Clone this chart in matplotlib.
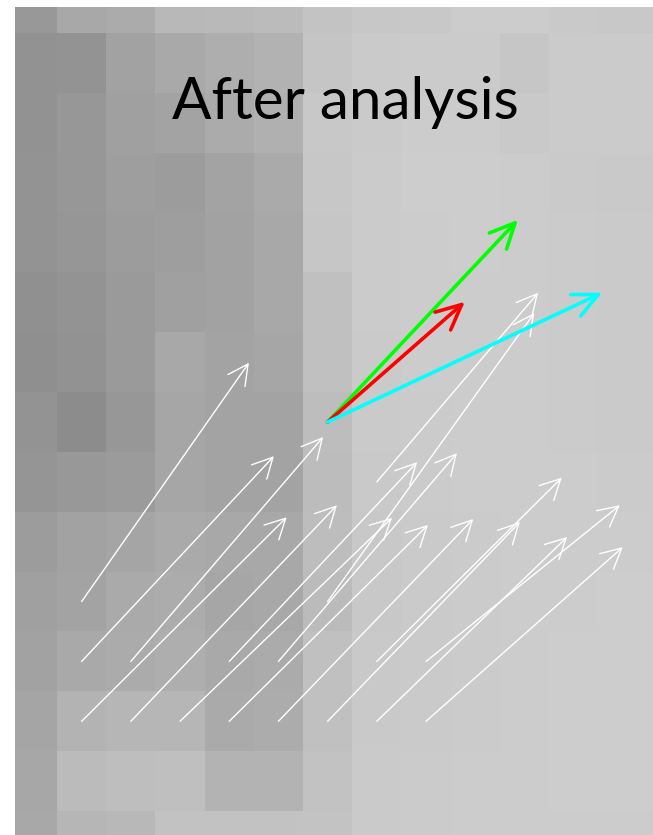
import numpy as np
import matplotlib
matplotlib.use("Agg")
import matplotlib.pyplot as plt

# gray levels of the image patch (rows top to bottom, 0-255)
patch = [
    [0x98, 0xa8, 0xab, 0xb8, 0xb9, 0xbb, 0xc3, 0xc7, 0xc8, 0xcc, 0xcc, 0xc9, 0xc8, 0xc8],
    [0x92, 0x93, 0xa2, 0xa9, 0xae, 0xb2, 0xc5, 0xca, 0xcb, 0xcb, 0xc6, 0xcb, 0xcb, 0xcb],
    [0x92, 0x97, 0xa0, 0xa4, 0xab, 0xb0, 0xc8, 0xca, 0xcc, 0xcc, 0xc9, 0xcb, 0xcb, 0xcb],
    [0x93, 0x97, 0x9e, 0x9c, 0xa3, 0xaa, 0xc7, 0xcb, 0xcd, 0xcd, 0xcc, 0xca, 0xc9, 0xc9],
    [0x93, 0x96, 0x9c, 0x9e, 0xa2, 0xa8, 0xc6, 0xcb, 0xcc, 0xcd, 0xcc, 0xcb, 0xca, 0xca],
    [0x90, 0x93, 0x9a, 0xa0, 0xa2, 0xa8, 0xc0, 0xcb, 0xcc, 0xcc, 0xcc, 0xcb, 0xca, 0xca],
    [0x8f, 0x92, 0x9a, 0xa8, 0xa4, 0xa6, 0xc0, 0xca, 0xcc, 0xcc, 0xcc, 0xcb, 0xca, 0xca],
    [0x93, 0x8c, 0x97, 0xa6, 0xa4, 0xa4, 0xbd, 0xca, 0xcb, 0xcc, 0xcc, 0xcb, 0xca, 0xca],
    [0x95, 0x98, 0x9b, 0xa6, 0xa3, 0xa4, 0xbc, 0xc9, 0xcb, 0xcc, 0xcc, 0xcc, 0xcb, 0xcb],
    [0x9c, 0xa2, 0xa5, 0xaa, 0xa8, 0xa8, 0xbd, 0xc8, 0xca, 0xcb, 0xcc, 0xcc, 0xcc, 0xcc],
    [0xa0, 0xa4, 0xaa, 0xac, 0xa6, 0xa8, 0xbb, 0xc8, 0xca, 0xcb, 0xcc, 0xcc, 0xcd, 0xcd],
    [0xa2, 0xa9, 0xab, 0xae, 0xa9, 0xab, 0xc0, 0xc9, 0xca, 0xcb, 0xcc, 0xcd, 0xcd, 0xcd],
    [0xa5, 0xb3, 0xb6, 0xb6, 0xaa, 0xac, 0xc0, 0xc9, 0xca, 0xcb, 0xcc, 0xcd, 0xcd, 0xcd],
    [0xa7, 0xbb, 0xbe, 0xbf, 0xb4, 0xb4, 0xc2, 0xca, 0xcb, 0xcc, 0xcc, 0xcd, 0xcd, 0xcd],
    [0xa8, 0xb6, 0xb8, 0xc2, 0xc2, 0xc2, 0xc4, 0xca, 0xcb, 0xcc, 0xcc, 0xcc, 0xcc, 0xcc],
]

# per-pixel flow vectors (origin pixel col/row, displacement in pixels)
flow_col = [1, 1, 2, 4, 5, 7, 8, 1, 2, 3, 4, 5, 6, 7, 8, 7, 6]
flow_row = [10, 11, 11, 11, 11, 11, 11, 12, 12, 12, 12, 12, 12, 12, 12, 8, 10]
flow_du = [3.40, 3.91, 3.91, 3.82, 3.63, 3.76, 3.94, 4.17, 4.19, 4.31, 4.04,
           3.96, 3.91, 3.87, 4.00, 3.28, 4.20]
flow_dv = [-3.99, -3.43, -3.75, -3.33, -3.48, -3.07, -2.61, -3.41, -3.61, -3.40,
           -3.28, -3.38, -3.33, -3.08, -2.91, -3.16, -4.82]

# estimated motion at the centre pixel
est_col, est_row = 6, 7
est_du = [3.87, 2.79, 5.58]
est_dv = [-3.38, -2.01, -2.16]
est_colors = ["#00ff00", "#ff0000", "#00ffff"]

W, H = 653, 835
fig = plt.figure(figsize=(W / 100, H / 100), dpi=100)
fig.patch.set_facecolor("white")
ax = fig.add_axes([15 / W, 0, 638 / W, 828 / H])
ax.imshow(np.array(patch) / 255.0, cmap="gray", vmin=0, vmax=1,
          interpolation="nearest", aspect="auto")
ax.set_xlim(-0.354, 12.614)
ax.set_ylim(13.90, 0.065)
ax.axis("off")


def arrow(x, y, dx, dy, color, lw, hl, hw):
    ax.annotate("", xy=(x + dx, y + dy), xytext=(x, y),
                arrowprops=dict(arrowstyle=f"->,head_length={hl},head_width={hw}",
                                color=color, lw=lw, shrinkA=0, shrinkB=0,
                                mutation_scale=1))


for c, r, du, dv in zip(flow_col, flow_row, flow_du, flow_dv):
    arrow(c, r, du, dv, "white", 1.0, 14.5, 7.5)

for du, dv, col in zip(est_du, est_dv, est_colors):
    arrow(est_col, est_row, du, dv, col, 2.6, 18, 8.5)

fig.text(345 / W, 1 - 119 / H, "After analysis", ha="center", va="baseline",
         fontsize=42, family="Lato", color="black")

fig.savefig("out.png", dpi=100)
